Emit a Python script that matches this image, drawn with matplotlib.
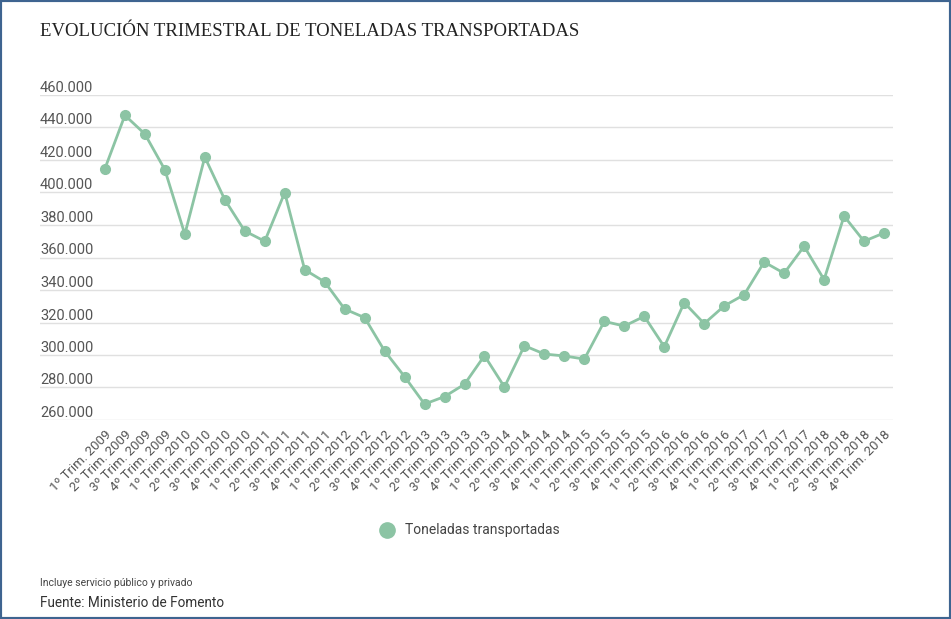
import matplotlib.pyplot as plt
from matplotlib.lines import Line2D
from matplotlib.patches import Rectangle
import matplotlib.transforms as mtransforms

# Datos (toneladas)
anios = list(range(2009, 2019))
trimestres = [1, 2, 3, 4]
etiquetas = ['%dº Trim. %d' % (t, a) for a in anios for t in trimestres]

toneladas = [
    414700, 447500, 436000, 414000,
    374300, 421800, 395600, 376300,
    370000, 399900, 352500, 345000,
    328300, 323000, 302500, 286700,
    269800, 274400, 282000, 299600,
    280300, 305700, 300600, 299400,
    297500, 320700, 317800, 323800,
    305100, 332200, 319300, 330200,
    337100, 357200, 350300, 366900,
    346400, 385500, 370000, 375100,
]

yticks = list(range(260000, 460001, 20000))

verde = '#8cc4a4'
gris = '#555555'

plt.rcParams['font.family'] = ['Roboto', 'DejaVu Sans']

fig = plt.figure(figsize=(9.51, 6.19), dpi=100)
ax = fig.add_axes([40 / 951, 1 - 420 / 619, 853 / 951, 325 / 619])

x = list(range(len(toneladas)))
ax.plot(x, toneladas, color=verde, lw=2, marker='o', ms=7, mec=verde,
        mfc=verde, zorder=3, clip_on=False)

ax.set_xlim(-3.25, 39.45)
ax.set_ylim(260000, 460000)

ax.set_yticks(yticks)
ax.set_yticklabels([])
ax.tick_params(axis='y', length=0)
ax.grid(axis='y', color='#e0e0e0', lw=1)
ax.set_axisbelow(True)
for s in ax.spines.values():
    s.set_visible(False)

# etiquetas del eje y encima de cada línea de rejilla
trans = mtransforms.blended_transform_factory(ax.transAxes, ax.transData)
for v in yticks:
    ax.text(0, v, '{:,}'.format(v).replace(',', '.'), transform=trans,
            ha='left', va='bottom', fontsize=10.5, color=gris)

ax.set_xticks(x)
ax.set_xticklabels(etiquetas, rotation=45, ha='right', rotation_mode='anchor',
                   fontsize=9.5, color=gris)
ax.tick_params(axis='x', length=0, pad=6)

fig.text(40 / 951, 1 - 32 / 619, 'EVOLUCIÓN TRIMESTRAL DE TONELADAS TRANSPORTADAS',
         family='Liberation Serif', fontsize=13.5, color='#222222', va='center')

# Leyenda
fig.add_artist(Line2D([387 / 951], [1 - 530 / 619], marker='o', ms=11,
                      color=verde, lw=0, transform=fig.transFigure))
fig.text(405 / 951, 1 - 530 / 619, 'Toneladas transportadas', fontsize=10,
         color='#444444', va='center')

fig.text(40 / 951, 1 - 583 / 619, 'Incluye servicio público y privado',
         fontsize=7.5, color='#444444', va='center')
fig.text(40 / 951, 1 - 603 / 619, 'Fuente: Ministerio de Fomento',
         fontsize=9.8, color='#333333', va='center')

fig.add_artist(Rectangle((0, 0), 1, 1, transform=fig.transFigure, fill=False,
                         ec='#3e6490', lw=3))

fig.savefig('out.png', dpi=100)
